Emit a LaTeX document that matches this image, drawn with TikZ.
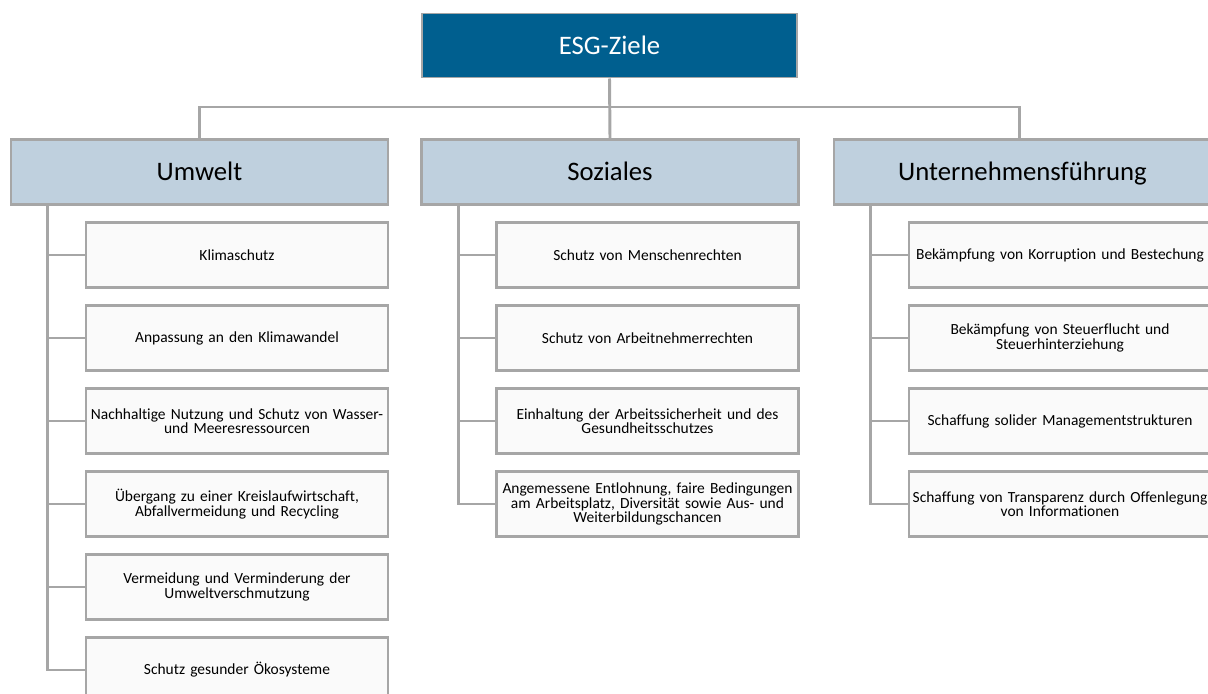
\documentclass[tikz,border=0pt]{standalone}
\usepackage{fontspec}
\setmainfont{Carlito}[Ligatures={NoCommon}]
\definecolor{esgblue}{RGB}{0,95,143}
\definecolor{catblue}{RGB}{191,208,222}
\definecolor{linegray}{RGB}{166,166,166}
\definecolor{leafwhite}{RGB}{250,250,250}
\begin{document}
\begin{tikzpicture}
  [x=0.025cm,y=-0.025cm,
   lineN/.style={draw=linegray,line width=2.1pt},
   topN/.style={rectangle,draw=linegray,line width=1.4pt,fill=esgblue,text=white,
     minimum width=9.35cm,minimum height=1.6cm,text height=12.2pt,text depth=0pt,
     font=\fontsize{19}{21}\selectfont},
   catN/.style={rectangle,draw=linegray,line width=1.6pt,fill=catblue,
     minimum width=9.42cm,minimum height=1.63cm,text height=12.2pt,text depth=0pt,
     font=\fontsize{19}{21}\selectfont},
   leafN/.style={rectangle,draw=linegray,line width=1.6pt,fill=leafwhite,inner sep=1pt,
     minimum width=7.55cm,minimum height=1.63cm,text width=7.45cm,align=center,
     font=\fontsize{11}{10.2}\selectfont}
  ]
  \useasboundingbox (0,0) rectangle (1208,693);

  \node[topN] (esg) at (609.5,45.5) {ESG-Ziele};

  \foreach \x/\y/\t in {199.5/u/Umwelt,610/s/Soziales,1022.5/g/Unternehmensführung} {
     \node[catN] (\y) at (\x,172) {\t};
  }

  % leaves
  \foreach \i/\t in {1/Klimaschutz,2/Anpassung an den Klimawandel,
      3/{Nachhaltige Nutzung und Schutz von Wasser-\\und Meeresressourcen},
      4/{Übergang zu einer Kreislaufwirtschaft,\\Abfallvermeidung und Recycling},
      5/{Vermeidung und Verminderung der\\Umweltverschmutzung},
      6/Schutz gesunder Ökosysteme} {
     \node[leafN] (u\i) at (237,{172+83*\i}) {\t};
  }
  \foreach \i/\t in {1/Schutz von Menschenrechten,2/Schutz von Arbeitnehmerrechten,
      3/{Einhaltung der Arbeitssicherheit und des\\Gesundheitsschutzes},
      4/{Angemessene Entlohnung, faire Bedingungen\\am Arbeitsplatz, Diversität sowie Aus- und\\Weiterbildungschancen}} {
     \node[leafN] (s\i) at (647.5,{172+83*\i}) {\t};
  }
  \foreach \i/\t in {1/Bekämpfung von Korruption und Bestechung,
      2/{Bekämpfung von Steuerflucht und\\Steuerhinterziehung},
      3/Schaffung solider Managementstrukturen,
      4/{Schaffung von Transparenz durch Offenlegung\\von Informationen}} {
     \node[leafN] (g\i) at (1060,{172+83*\i}) {\t};
  }

  % top connectors
  \coordinate (bar) at (609,107);
  \draw[lineN] (esg.south) -- (s.north);
  \draw[lineN] (u.north) |- (bar) -| ([xshift=-0.08cm]g.north);

  % spines
  \coordinate (uspine) at ([xshift=0.95cm]u.south west);
  \coordinate (sspine) at ([xshift=0.95cm]s.south west);
  \coordinate (gspine) at ([xshift=0.95cm]g.south west);
  \draw[lineN] (uspine) |- (u6.west);
  \draw[lineN] (sspine) |- (s4.west);
  \draw[lineN] (gspine) |- (g4.west);
  \foreach \i in {1,...,5} {
      \draw[lineN] (u\i.west) -- (u\i.west -| uspine);
  }
  \foreach \i in {1,...,3} {
      \draw[lineN] (s\i.west) -- (s\i.west -| sspine);
      \draw[lineN] (g\i.west) -- (g\i.west -| gspine);
  }
\end{tikzpicture}
\end{document}
